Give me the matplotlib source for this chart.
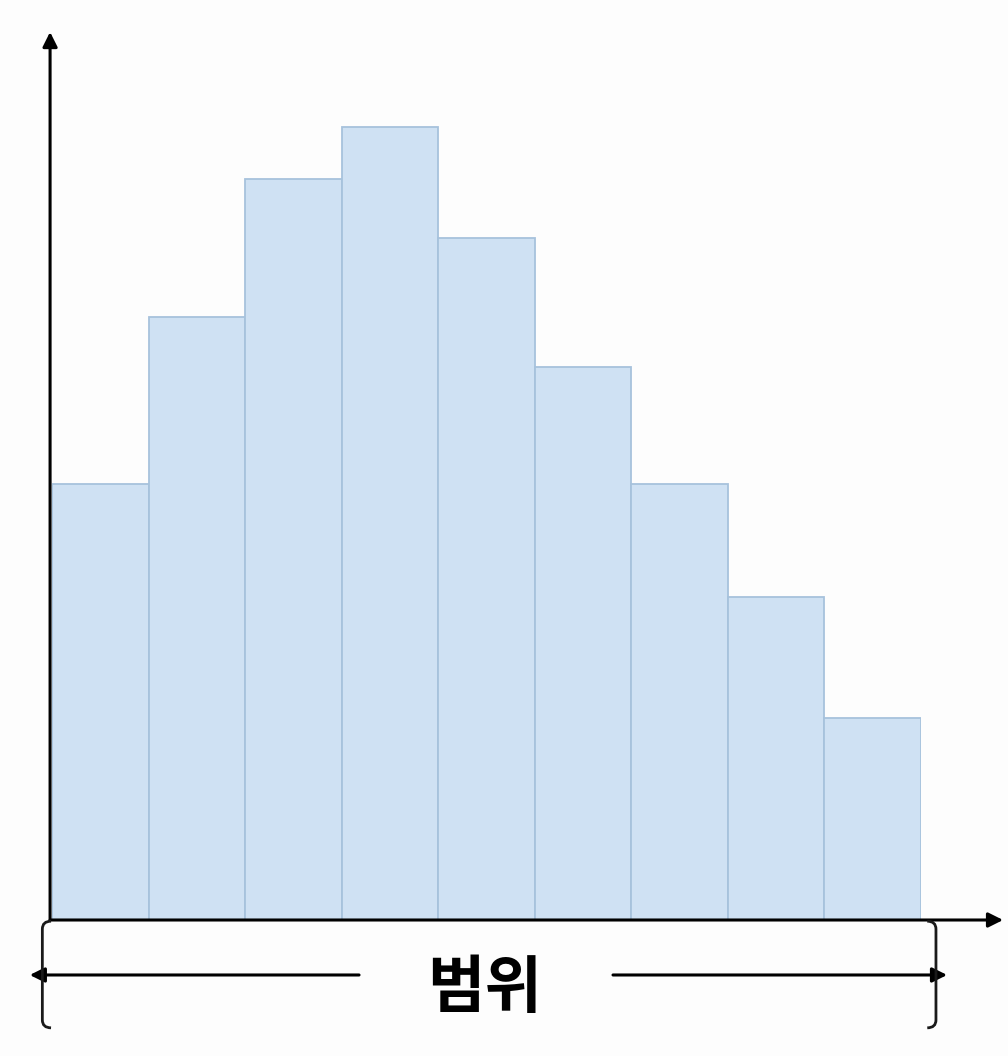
import matplotlib
matplotlib.use('Agg')
import matplotlib.pyplot as plt
from matplotlib.path import Path
from matplotlib.patches import PathPatch
import numpy as np

plt.rcParams['font.family'] = ['Noto Sans CJK KR', 'DejaVu Sans']

# bin edges (arbitrary units) and frequencies
bin_edges = [0, 1, 2, 3, 4, 5, 6, 7, 8, 9]
counts = [11.0, 15.2, 18.7, 20.0, 17.2, 13.95, 11.0, 8.15, 5.1]
range_label = '범위'

W, H = 1008, 1056
fig = plt.figure(figsize=(W / 100, H / 100), dpi=100)
fig.patch.set_facecolor('#fdfdfd')

# axes box: bars from x=52..921 px, baseline at 920 px, y arrow tip ~32 px
ax = fig.add_axes([52 / W, (H - 920) / H, (921 - 52) / W, (920 - 32) / H])
ax.set_facecolor('none')
ymax = 22.4
ax.set_xlim(0, 9)
ax.set_ylim(0, ymax)
for s in ax.spines.values():
    s.set_visible(False)
ax.set_xticks([])
ax.set_yticks([])

widths = np.diff(bin_edges)
ax.bar(bin_edges[:-1], counts, width=widths, align='edge',
       color='#cfe1f3', edgecolor='#a7c2dc', linewidth=1.3, zorder=2)

arrow = dict(arrowstyle='-|>', mutation_scale=22, color='black', lw=2.2,
             shrinkA=0, shrinkB=0)
# axes
ax.annotate('', xy=(-0.02, ymax), xytext=(-0.02, 0), arrowprops=arrow,
            annotation_clip=False, zorder=5)
ax.annotate('', xy=(9.85, 0), xytext=(-0.02, 0), arrowprops=arrow,
            annotation_clip=False, zorder=5)

# range bracket below the bars
xl, xr = -0.10, 9.155
yt, yb = -0.03, -2.72
hx, hy = 0.09, 0.2


def bracket(x, sign):
    verts = [(x + sign * hx, yt), (x, yt), (x, yt - hy),
             (x, yb + hy), (x, yb), (x + sign * hx, yb)]
    codes = [Path.MOVETO, Path.CURVE3, Path.CURVE3,
             Path.LINETO, Path.CURVE3, Path.CURVE3]
    ax.add_patch(PathPatch(Path(verts, codes), fill=False, lw=2.0,
                           edgecolor='#1a1a1a', clip_on=False, zorder=5))


bracket(xl, 1)
bracket(xr, -1)

ya = -1.387
ax.annotate('', xy=(-0.23, ya), xytext=(3.18, ya), arrowprops=arrow,
            annotation_clip=False)
ax.annotate('', xy=(9.27, ya), xytext=(5.81, ya), arrowprops=arrow,
            annotation_clip=False)
ax.text(4.48, -1.72, range_label, ha='center', va='center',
        fontsize=45, fontweight='bold', color='black', clip_on=False)

fig.savefig('out.png', dpi=100, facecolor=fig.get_facecolor())
